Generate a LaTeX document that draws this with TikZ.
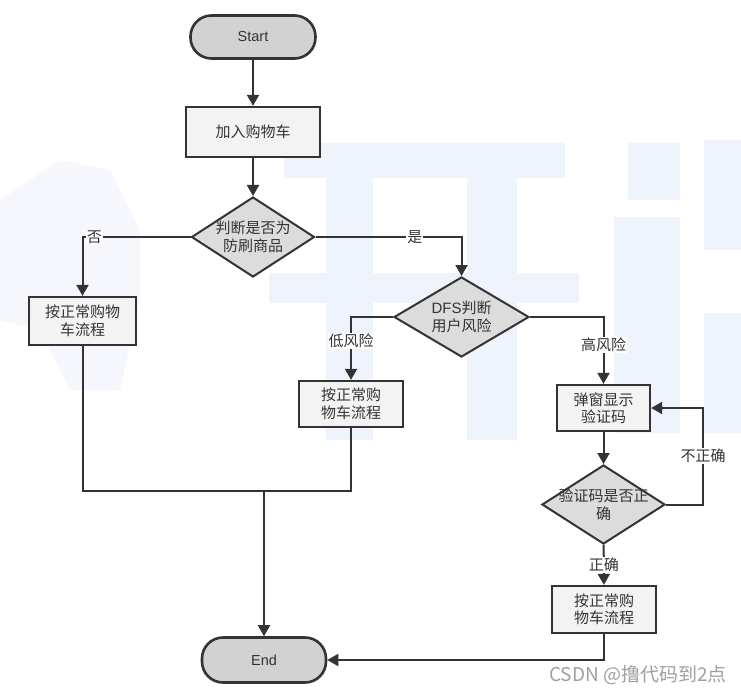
\documentclass[tikz,border=0pt]{standalone}
\usepackage{fontspec}
\setmainfont{Noto Sans CJK SC}
\newfontfamily\latinfont{Liberation Sans}
\usetikzlibrary{arrows.meta,shapes.geometric}
\definecolor{ink}{HTML}{333333}
\definecolor{termfill}{HTML}{D2D2D2}
\definecolor{procfill}{HTML}{F3F3F3}
\definecolor{decfill}{HTML}{DCDCDC}
\definecolor{wm}{HTML}{EFF3FB}
\tikzset{
  base/.style={draw=ink, text=ink, font=\fontsize{15pt}{17.5pt}\selectfont, align=center, inner sep=0pt},
  term/.style={base, fill=termfill, line width=2.6pt, rounded corners=21pt, minimum width=125pt, minimum height=43pt, font=\latinfont\fontsize{14.5pt}{16pt}\selectfont},
  proc/.style={base, fill=procfill, line width=2.3pt},
  dec/.style={base, diamond, fill=decfill, line width=2pt},
  dtext/.style={text=ink, font=\fontsize{15pt}{17.5pt}\selectfont, align=center, inner sep=0pt},
  conn/.style={draw=ink, line width=2pt},
  arr/.style={conn, -{Triangle[length=11pt,width=12pt]}},
  lbl/.style={fill=white, text=ink, font=\fontsize{15pt}{17pt}\selectfont, inner sep=1pt},
}
\begin{document}
\begin{tikzpicture}[x=1pt,y=-1pt]
\useasboundingbox (0,0) rectangle (741,693);
\fill[white] (0,0) rectangle (741,693);
% faint background watermark
\fill[wm] (284,143) rectangle (565,178);
\fill[wm] (269,273) rectangle (579,303);
\fill[wm] (326,143) rectangle (373,440);
\fill[wm] (467,143) rectangle (517,440);
\fill[wm] (628,143) rectangle (680,200);
\fill[wm] (614,217) rectangle (680,433);
\fill[wm] (704,140) rectangle (741,250);
\fill[wm] (704,313) rectangle (741,433);
\fill[wm, opacity=0.6] (0,200) -- (60,160) -- (110,170) -- (140,230) -- (140,300) -- (120,390) -- (70,390) -- (40,330) -- (0,320) -- cycle;

% nodes
\node[term] (start) at (253,37) {Start};
\node[proc, minimum width=134pt, minimum height=50pt] (cart) at (253,132) {加入购物车};
\node[dec, minimum width=123pt, minimum height=80pt] (d1) at (253,237) {};
\node[dtext] (d1t) at (253,237) {判断是否为\\防刷商品};
\node[proc, minimum width=107pt, minimum height=48pt] (nb1) at (82.5,321) {按正常购物\\车流程};
\node[dec, minimum width=135pt, minimum height=80pt] (d2) at (461.5,317) {};
\node[dtext] (d2t) at (461.5,317) {{\latinfont DFS}判断\\用户风险};
\node[proc, minimum width=104pt, minimum height=46pt] (nb2) at (351,404) {按正常购\\物车流程};
\node[proc, minimum width=93pt, minimum height=46pt] (pop) at (603.5,408) {弹窗显示\\验证码};
\node[dec, minimum width=123pt, minimum height=79pt] (d3) at (603.5,504.5) {};
\node[dtext] (d3t) at (603.5,504.5) {验证码是否正\\确};
\node[proc, minimum width=104pt, minimum height=47pt] (nb3) at (604,609.5) {按正常购\\物车流程};
\node[term, minimum width=124pt, minimum height=45pt] (end) at (264,660) {End};
\coordinate (m) at (264,491);
\coordinate (loop) at (703,504.5);

% connectors
\draw[arr] (start) -- (cart);
\draw[arr] (cart) -- (d1);
\draw[arr] (d1.west) -| node[lbl, pos=0.445] {否} (nb1.north);
\draw[arr] (d1.east) -| node[lbl, pos=0.34] {是} (d2.north);
\draw[arr] (d2.west) -| node[lbl, pos=0.69] {低风险} (nb2.north);
\draw[arr] (d2.east) -| node[lbl, pos=0.71] {高风险} (pop.north);
\draw[arr] (pop) -- (d3);
\draw[arr] (d3.east) -- (loop) |- node[lbl, pos=0.25] {不正确} (pop.east);
\draw[arr] (d3) -- node[lbl] {正确} (nb3);
\draw[arr] (nb3.south) |- (end.east);
\draw[conn] (nb1.south) |- (m);
\draw[conn] (nb2.south) |- (m);
\draw[arr] (m) -- (end.north);

\node[text=gray!75, font=\fontsize{19pt}{22pt}\selectfont, anchor=east, inner sep=0pt] (csdn) at (727,675) {CSDN @撸代码到2点};
\end{tikzpicture}
\end{document}
